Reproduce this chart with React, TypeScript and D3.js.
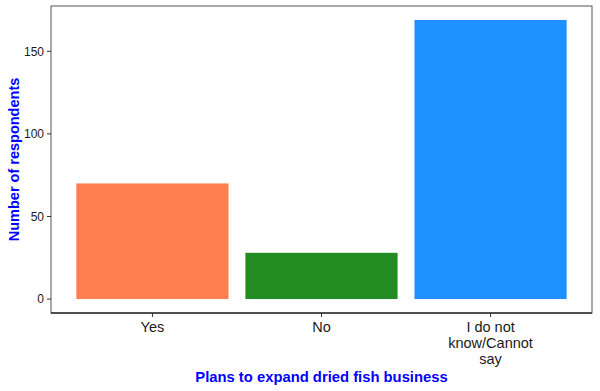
import React from 'react';
import * as d3 from 'd3';

// chart values
const categories = ['Yes', 'No', 'I do not know/Cannot say'];
const categoryLines = [['Yes'], ['No'], ['I do not', 'know/Cannot', 'say']];
const counts = [70, 28, 169];
const colors = ['#FF7F50', '#228B22', '#1E90FF'];
const yTicks = [0, 50, 100, 150];

const App = () => {
    const width = 600;
    const height = 391;
    const margin = { top: 6, right: 8, bottom: 78, left: 51 };
    const panelW = width - margin.left - margin.right;
    const panelH = height - margin.top - margin.bottom;

    // ggplot-like expansion: 5% on y, 0.6 units on discrete x
    const yMax = d3.max(counts) as number;
    const pad = yMax * 0.05;
    const y = d3.scaleLinear()
        .domain([-pad, yMax + pad])
        .range([margin.top + panelH, margin.top]);

    const x = d3.scaleLinear()
        .domain([0.4, categories.length + 0.6])
        .range([margin.left, margin.left + panelW]);
    const barW = x(0.9) - x(0);

    const font = '"Liberation Sans", Arial, sans-serif';

    return (
        <svg width={width} height={height} style={{ display: 'block', position: 'absolute', left: 0, top: 0 }}
            fontFamily={font}>
            <rect x={0} y={0} width={width} height={height} fill="white" />
            {/* bars */}
            {counts.map((d, i) => (
                <rect key={categories[i]}
                    x={x(i + 1) - barW / 2}
                    y={y(d)}
                    width={barW}
                    height={y(0) - y(d)}
                    fill={colors[i]} />
            ))}
            {/* panel border */}
            <rect x={margin.left} y={margin.top} width={panelW} height={panelH}
                fill="none" stroke="#555" strokeWidth={1} />
            <line x1={margin.left} x2={margin.left + panelW} y1={margin.top + panelH} y2={margin.top + panelH}
                stroke="#333" strokeWidth={1.6} />
            {/* y axis */}
            {yTicks.map(t => (
                <g key={t}>
                    <line x1={margin.left - 4} x2={margin.left} y1={y(t)} y2={y(t)} stroke="#333" />
                    <text x={margin.left - 7} y={y(t)} dy="0.35em" textAnchor="end" fontSize={12} fill="#1a1a1a">{t}</text>
                </g>
            ))}
            {/* x axis */}
            {categoryLines.map((lines, i) => (
                <g key={categories[i]}>
                    <line x1={x(i + 1)} x2={x(i + 1)} y1={margin.top + panelH} y2={margin.top + panelH + 4} stroke="#333" />
                    <text x={x(i + 1)} y={margin.top + panelH + 19} textAnchor="middle" fontSize={14.5} fill="#1a1a1a">
                        {lines.map((l, j) => (
                            <tspan key={j} x={x(i + 1)} dy={j === 0 ? 0 : 16}>{l}</tspan>
                        ))}
                    </text>
                </g>
            ))}
            {/* axis titles */}
            <text x={margin.left + panelW / 2} y={382} textAnchor="middle" fontSize={14.8} fontWeight="bold" fill="#0000FF">
                Plans to expand dried fish business
            </text>
            <text transform={`translate(19,${margin.top + panelH / 2}) rotate(-90)`} textAnchor="middle"
                fontSize={14.5} fontWeight="bold" fill="#0000FF">
                Number of respondents
            </text>
        </svg>
    );
};

export default App;
